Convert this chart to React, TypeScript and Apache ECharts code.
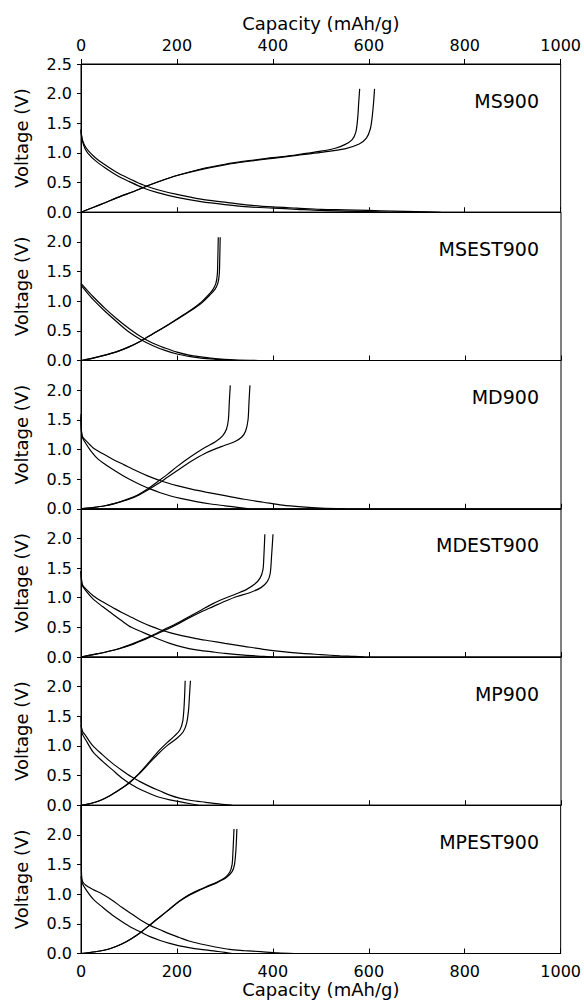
import React, { useEffect, useRef } from "react";
import * as echarts from "echarts";

// ---------- DATA (capacity mAh/g, voltage V) ----------
const panelNames = ["MS900", "MSEST900", "MD900", "MDEST900", "MP900", "MPEST900"];

const ms900Dis1 = [[0,1.40],[1,1.3],[3,1.2],[8,1.08],[15,0.99],[30,0.87],[50,0.75],[75,0.62],[100,0.52],[130,0.41],[160,0.33],[200,0.25],[250,0.18],[300,0.13],[350,0.09],[400,0.07],[450,0.05],[500,0.03],[550,0.02],[600,0.01],[640,0]];
const ms900Dis2 = [[0,1.38],[1,1.3],[3,1.22],[8,1.12],[15,1.04],[30,0.92],[50,0.80],[75,0.67],[100,0.57],[130,0.46],[160,0.38],[200,0.30],[250,0.22],[300,0.17],[350,0.12],[400,0.09],[450,0.07],[500,0.05],[550,0.04],[600,0.03],[650,0.02],[700,0.01],[750,0]];
const ms900Ch1 = [[0,0],[25,0.08],[50,0.16],[80,0.26],[110,0.35],[140,0.45],[170,0.54],[200,0.62],[250,0.73],[300,0.81],[350,0.87],[400,0.92],[450,0.97],[500,1.03],[530,1.08],[550,1.14],[565,1.22],[573,1.35],[577,1.6],[579,1.85],[581,2.08]];
const ms900Ch2 = [[0,0],[25,0.08],[50,0.16],[80,0.26],[110,0.35],[140,0.45],[170,0.54],[200,0.62],[250,0.72],[300,0.80],[350,0.86],[400,0.91],[450,0.96],[500,1.01],[550,1.07],[580,1.15],[595,1.25],[603,1.4],[607,1.6],[610,1.85],[612,2.08]];

const msest900Dis1 = [[0,1.27],[10,1.17],[25,1.03],[50,0.83],[75,0.65],[100,0.48],[125,0.35],[150,0.25],[175,0.17],[200,0.11],[225,0.07],[250,0.04],[280,0.02],[320,0]];
const msest900Dis2 = [[0,1.3],[10,1.21],[25,1.08],[50,0.88],[75,0.70],[100,0.54],[125,0.40],[150,0.29],[175,0.21],[200,0.14],[225,0.09],[250,0.06],[280,0.03],[320,0.01],[370,0]];
const msest900Ch1 = [[0,0],[25,0.04],[50,0.09],[75,0.15],[100,0.23],[125,0.33],[150,0.45],[175,0.57],[200,0.70],[225,0.83],[250,0.98],[265,1.1],[275,1.2],[281,1.3],[284,1.45],[285,1.7],[286,2.08]];
const msest900Ch2 = [[0,0],[25,0.04],[50,0.09],[75,0.15],[100,0.23],[125,0.33],[150,0.45],[175,0.57],[200,0.69],[225,0.82],[250,0.96],[268,1.1],[279,1.2],[285,1.3],[288,1.45],[289,1.7],[290,2.08]];

const md900Dis1 = [[0,1.6],[1,1.3],[3,1.2],[10,1.1],[20,0.98],[35,0.84],[50,0.75],[65,0.67],[85,0.57],[105,0.48],[125,0.40],[145,0.33],[165,0.27],[185,0.22],[210,0.17],[240,0.12],[270,0.08],[300,0.05],[330,0.02],[350,0]];
const md900Dis2 = [[0,1.55],[1,1.3],[3,1.22],[10,1.15],[25,1.03],[45,0.93],[65,0.84],[90,0.74],[115,0.64],[140,0.55],[170,0.46],[200,0.39],[230,0.33],[260,0.28],[300,0.22],[340,0.16],[380,0.11],[420,0.06],[460,0.03],[500,0.01],[550,0]];
const md900Ch1 = [[0,0],[25,0.02],[50,0.05],[75,0.1],[100,0.17],[120,0.24],[140,0.34],[160,0.46],[180,0.58],[200,0.71],[220,0.83],[240,0.94],[260,1.04],[280,1.13],[295,1.23],[303,1.34],[307,1.5],[309,1.8],[311,2.08]];
const md900Ch2 = [[0,0],[25,0.02],[50,0.05],[75,0.1],[100,0.16],[120,0.23],[140,0.32],[160,0.42],[180,0.53],[200,0.64],[220,0.75],[240,0.85],[260,0.94],[280,1.01],[300,1.07],[320,1.13],[335,1.21],[343,1.31],[348,1.5],[350,1.8],[352,2.08]];

const mdest900Dis1 = [[0,1.45],[1,1.3],[3,1.2],[10,1.12],[25,0.98],[45,0.85],[65,0.73],[85,0.61],[105,0.50],[125,0.43],[145,0.36],[165,0.29],[185,0.23],[210,0.17],[240,0.12],[270,0.09],[300,0.06],[340,0.03],[380,0.01],[400,0]];
const mdest900Dis2 = [[0,1.45],[1,1.3],[3,1.22],[10,1.15],[26,1.03],[45,0.93],[65,0.84],[85,0.75],[105,0.67],[125,0.59],[145,0.52],[165,0.46],[185,0.41],[210,0.36],[240,0.31],[270,0.27],[300,0.23],[340,0.18],[380,0.13],[420,0.09],[460,0.06],[500,0.04],[540,0.02],[570,0.01],[590,0]];
const mdest900Ch1 = [[0,0],[25,0.04],[50,0.08],[75,0.13],[100,0.2],[125,0.28],[150,0.37],[175,0.47],[200,0.57],[225,0.68],[250,0.79],[275,0.9],[300,0.99],[325,1.07],[345,1.14],[362,1.23],[373,1.33],[379,1.47],[381,1.7],[383,2.07]];
const mdest900Ch2 = [[0,0],[25,0.04],[50,0.08],[75,0.13],[100,0.19],[125,0.27],[150,0.36],[175,0.45],[200,0.55],[225,0.66],[250,0.76],[275,0.85],[300,0.94],[325,1.02],[350,1.08],[375,1.17],[388,1.27],[394,1.4],[397,1.7],[400,2.07]];

const mp900Dis1 = [[0,1.5],[1,1.3],[3,1.2],[10,1.1],[25,0.9],[45,0.74],[65,0.6],[85,0.46],[105,0.35],[125,0.26],[145,0.19],[165,0.13],[185,0.09],[205,0.06],[225,0.03],[245,0]];
const mp900Dis2 = [[0,1.35],[3,1.25],[10,1.17],[25,1.0],[45,0.85],[65,0.71],[85,0.59],[105,0.48],[125,0.39],[145,0.31],[165,0.24],[185,0.17],[205,0.12],[230,0.08],[260,0.05],[290,0.02],[315,0]];
const mp900Ch1 = [[0,0],[20,0.03],[40,0.08],[60,0.16],[80,0.26],[100,0.38],[120,0.53],[140,0.71],[160,0.9],[180,1.06],[195,1.17],[206,1.27],[212,1.42],[215,1.7],[217,2.1]];
const mp900Ch2 = [[0,0],[20,0.03],[40,0.08],[60,0.16],[80,0.26],[100,0.37],[120,0.52],[140,0.69],[160,0.86],[180,1.01],[200,1.13],[213,1.24],[220,1.38],[224,1.6],[226,1.85],[228,2.1]];

const mpest900Dis1 = [[0,1.3],[3,1.18],[10,1.08],[25,0.92],[45,0.78],[65,0.65],[85,0.54],[105,0.44],[125,0.36],[145,0.28],[165,0.22],[185,0.17],[205,0.13],[225,0.10],[250,0.07],[280,0.04],[300,0.02],[315,0]];
const mpest900Dis2 = [[0,2.5],[0.5,1.8],[1,1.35],[3,1.22],[10,1.15],[25,1.08],[45,1.0],[65,0.9],[85,0.78],[105,0.67],[125,0.56],[145,0.47],[165,0.40],[185,0.33],[205,0.27],[225,0.21],[250,0.16],[280,0.11],[310,0.07],[340,0.05],[375,0.03],[410,0.01],[445,0]];
const mpest900Ch1 = [[0,0],[30,0.03],[60,0.08],[85,0.16],[105,0.25],[125,0.36],[145,0.49],[165,0.62],[185,0.75],[205,0.88],[225,0.99],[245,1.07],[265,1.14],[285,1.21],[300,1.28],[310,1.37],[315,1.5],[317,1.75],[319,2.1]];
const mpest900Ch2 = [[0,0],[30,0.03],[60,0.08],[85,0.16],[105,0.25],[125,0.36],[145,0.49],[165,0.62],[185,0.75],[205,0.88],[225,0.98],[245,1.06],[265,1.13],[285,1.2],[303,1.28],[315,1.38],[320,1.5],[323,1.75],[325,2.1]];

const panelCurves = [
  [ms900Dis1, ms900Dis2, ms900Ch1, ms900Ch2],
  [msest900Dis1, msest900Dis2, msest900Ch1, msest900Ch2],
  [md900Dis1, md900Dis2, md900Ch1, md900Ch2],
  [mdest900Dis1, mdest900Dis2, mdest900Ch1, mdest900Ch2],
  [mp900Dis1, mp900Dis2, mp900Ch1, mp900Ch2],
  [mpest900Dis1, mpest900Dis2, mpest900Ch1, mpest900Ch2],
];

const xName = "Capacity (mAh/g)";
const yName = "Voltage (V)";
const xMin = 0, xMax = 1000, xInterval = 200;
const yMin = 0, yMax = 2.5, yInterval = 0.5;

// ---------- LAYOUT ----------
const FONT = "'DejaVu Sans', Arial, sans-serif";
const LEFT = 81;
const PLOT_W = 480;
const TOP = 64;
const PANEL_H = 148.25;
const FS = 16;      // tick labels
const FS_NAME = 18; // axis names
const FS_PANEL = 19; // panel labels

export default function App() {
  const ref = useRef<HTMLDivElement>(null);
  useEffect(() => {
    if (!ref.current) return;
    const chart = echarts.init(ref.current, undefined, { renderer: "svg" });
    const n = panelNames.length;
    const grids: any[] = [];
    const xAxes: any[] = [];
    const yAxes: any[] = [];
    const series: any[] = [];
    const titles: any[] = [];
    const lineStyle = { color: "#000", width: 1 };
    const xFmt = (v: number) => String(v);
    for (let i = 0; i < n; i++) {
      const top = TOP + i * PANEL_H;
      grids.push({ left: LEFT, width: PLOT_W, top, height: PANEL_H, show: true, borderColor: "#000", borderWidth: 1, backgroundColor: "transparent" });
      const isLast = i === n - 1;
      xAxes.push({
        type: "value", gridIndex: i, min: xMin, max: xMax, interval: xInterval, position: "bottom",
        axisLine: { show: true, lineStyle },
        axisTick: { show: true, inside: true, length: 5, lineStyle },
        axisLabel: { show: isLast, color: "#000", fontSize: FS, fontFamily: FONT, margin: 10, formatter: xFmt },
        splitLine: { show: false },
        name: isLast ? xName : "", nameLocation: "middle", nameGap: 27,
        nameTextStyle: { color: "#000", fontSize: FS_NAME, fontFamily: FONT },
      });
      yAxes.push({
        type: "value", gridIndex: i, min: yMin, max: yMax, interval: yInterval,
        axisLine: { show: true, lineStyle },
        axisTick: { show: true, inside: false, length: 4, lineStyle },
        axisLabel: {
          color: "#000", fontSize: FS, fontFamily: FONT, margin: 9,
          formatter: (v: number) => (i > 0 && v >= yMax - 1e-9 ? "" : v.toFixed(1)),
        },
        splitLine: { show: false },
        name: yName, nameLocation: "middle", nameGap: 51, nameRotate: 90,
        nameTextStyle: { color: "#000", fontSize: FS_NAME, fontFamily: FONT },
      });
      titles.push({
        text: panelNames[i], right: 40, top: top + 22,
        textStyle: { color: "#000", fontSize: FS_PANEL, fontWeight: "normal", fontFamily: FONT },
      });
      panelCurves[i].forEach((d, k) => {
        series.push({
          type: "line", xAxisIndex: i, yAxisIndex: i, data: d, showSymbol: false, symbol: "none",
          smooth: 0.3, lineStyle: { color: "#000", width: 1.2 }, silent: true, name: panelNames[i] + k,
        });
      });
    }
    // top axis on first panel
    xAxes.push({
      type: "value", gridIndex: 0, min: xMin, max: xMax, interval: xInterval, position: "top",
      axisLine: { show: true, lineStyle },
      axisTick: { show: true, inside: false, length: 5, lineStyle },
      axisLabel: { show: true, color: "#000", fontSize: FS, fontFamily: FONT, margin: 11, formatter: xFmt },
      splitLine: { show: false },
      name: xName, nameLocation: "middle", nameGap: 32,
      nameTextStyle: { color: "#000", fontSize: FS_NAME, fontFamily: FONT },
    });
    chart.setOption({
      animation: false,
      backgroundColor: "#fff",
      title: titles,
      grid: grids,
      xAxis: xAxes,
      yAxis: yAxes,
      series,
    });
    return () => chart.dispose();
  }, []);
  return <div ref={ref} style={{ position: "fixed", left: 0, top: 0, width: 584, height: 1008 }} />;
}
